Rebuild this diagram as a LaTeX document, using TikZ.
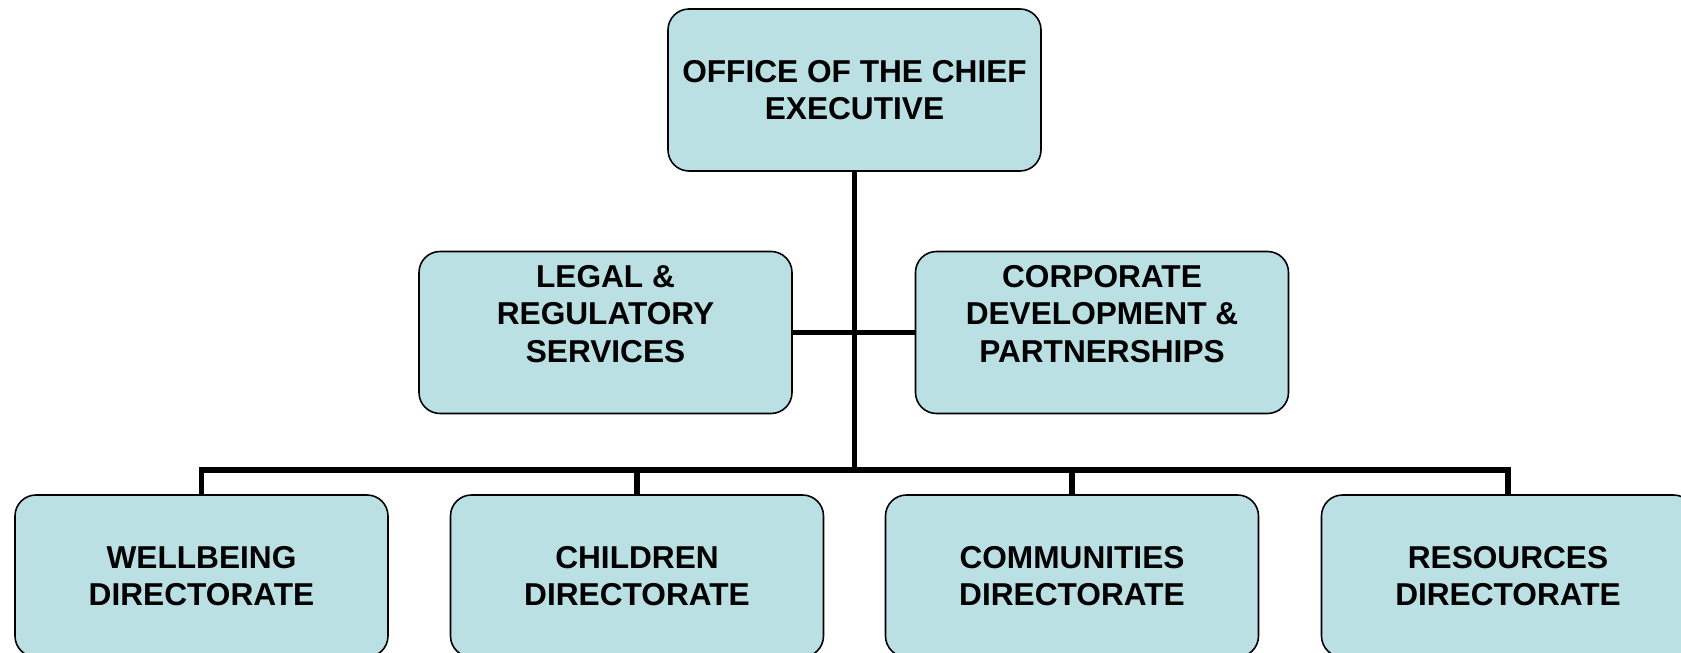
\documentclass[tikz,border=0pt]{standalone}
\usepackage{fontspec}
\setmainfont{Liberation Sans}
\usepackage{tikz}

\definecolor{deptblue}{RGB}{186,224,228}

\begin{document}
\begin{tikzpicture}[
        dept/.style={draw=black, line width=0.9pt, fill=deptblue, rounded corners=0.42cm,
            minimum width=7.46cm, minimum height=3.24cm, align=center,
            font=\bfseries\fontsize{18}{21.3}\selectfont},
        link/.style={line width=3.4pt}
    ]
        \useasboundingbox (0,0) rectangle (33.62,-13.06);

        % Top of the chart
        \node[dept] (chief) at (17.09,-1.80) {OFFICE OF THE CHIEF\\EXECUTIVE};

        % Units beside the chief executive
        \node[dept] (legal) at (12.11,-6.65) {LEGAL \&\\REGULATORY\\SERVICES\\\mbox{}};
        \node[dept] (corporate) at (22.04,-6.65) {CORPORATE\\DEVELOPMENT \&\\PARTNERSHIPS\\\mbox{}};

        % Directorates along the bottom
        \node[dept] (wellbeing) at (4.03,-11.52) {WELLBEING\\DIRECTORATE};
        \node[dept] (children) at (12.74,-11.52) {CHILDREN\\DIRECTORATE};
        \node[dept] (communities) at (21.44,-11.52) {COMMUNITIES\\DIRECTORATE};
        \node[dept] (resources) at (30.16,-11.52) {RESOURCES\\DIRECTORATE};

        % Connecting lines
        \coordinate (bus) at (17.09,-9.40);
        \draw[link] (chief) -- (bus);
        \draw[link] (legal) -- (corporate);
        \foreach \d in {wellbeing,children,communities,resources} {
            \draw[link] (\d.north) |- (bus);
        }
    \end{tikzpicture}
\end{document}
